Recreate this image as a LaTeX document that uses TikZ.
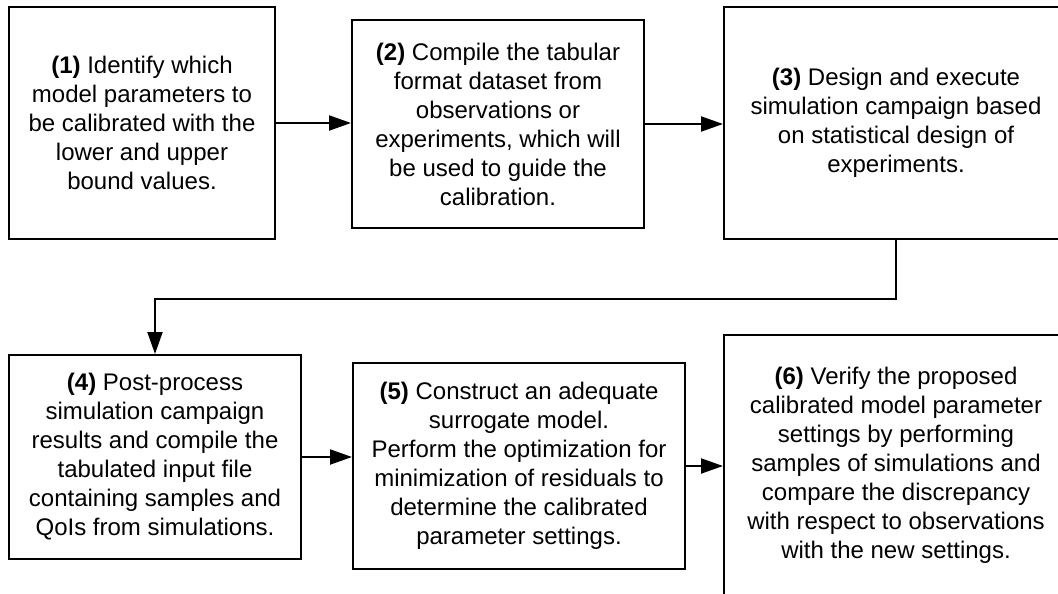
\documentclass[tikz,border=0pt]{standalone}
\usepackage{fontspec}
\setmainfont{Liberation Sans}
\usetikzlibrary{arrows.meta}
\begin{document}
\begin{tikzpicture}[x=1pt,y=-1pt,
  stepbox/.style={draw=black, line width=2pt, fill=white, inner sep=0pt,
    align=center, font=\fontsize{24}{29}\selectfont},
  arr/.style={line width=2pt, -{Triangle[length=22pt,width=15pt]}}]
\useasboundingbox (0,0) rectangle (1058,594);
\clip (0,0) rectangle (1058,594);
\fill[white] (0,0) rectangle (1058,594);

% top row
\node[stepbox, minimum width=266pt, minimum height=232pt] (b1) at (142,123)
  {\textbf{(1)} Identify which\\model parameters to\\be calibrated with the\\lower and upper\\bound values.};
\node[stepbox, minimum width=292pt, minimum height=208pt] (b2) at (498,124)
  {\textbf{(2)} Compile the tabular\\format dataset from\\observations or\\experiments, which will\\be used to guide the\\calibration.};
\node[stepbox, minimum width=344pt, minimum height=232pt] (b3) at (896,123)
  {\textbf{(3)} Design and execute\\simulation campaign based\\on statistical design of\\experiments.};

% bottom row
\node[stepbox, minimum width=292pt, minimum height=204pt] (b4) at (155,457)
  {\textbf{(4)} Post-process\\simulation campaign\\results and compile the\\tabulated input file\\containing samples and\\QoIs from simulations.};
\node[stepbox, minimum width=332pt, minimum height=206pt] (b5) at (519,466)
  {\textbf{(5)} Construct an adequate\\surrogate model.\\Perform the optimization for\\minimization of residuals to\\determine the calibrated\\parameter settings.};
\node[stepbox, minimum width=344pt, minimum height=260pt] (b6) at (896,465)
  {\textbf{(6)} Verify the proposed\\calibrated model parameter\\settings by performing\\samples of simulations and\\compare the discrepancy\\with respect to observations\\with the new settings.};

% connectors
\draw[arr] (b1.east) -- (b1.east -| b2.west);
\draw[arr] (b2.east) -- (b2.east -| b3.west);
\draw[arr] (b3.south) -- ++(0,59) -| (b4.north);
\draw[arr] (b4.east) -- (b4.east -| b5.west);
\draw[arr] (b5.east) -- (b5.east -| b6.west);
\end{tikzpicture}
\end{document}
